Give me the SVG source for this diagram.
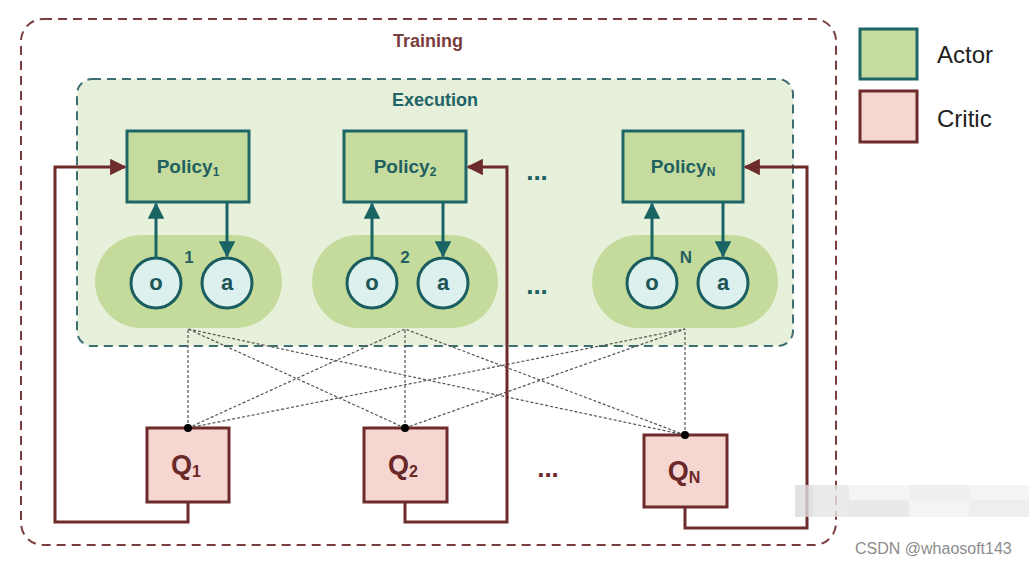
<svg xmlns="http://www.w3.org/2000/svg" width="1029" height="563" viewBox="0 0 1029 563">
  <style>
    .policy { fill: #c6dc9f; stroke: #1d6566; stroke-width: 3; }
    .pill { fill: #c5db9c; }
    .obs { fill: #dcf0ee; stroke: #1a5e5f; stroke-width: 3; }
    .critic { fill: #f6d6d1; stroke: #6e2b2b; stroke-width: 3; }
    .ptxt { font-family: "Liberation Sans", Arial, sans-serif; font-weight: bold; font-size: 19px; fill: #1f5f60; text-anchor: middle; }
    .sub { font-size: 12px; }
    .ctxt { font-family: "Liberation Sans", Arial, sans-serif; font-weight: bold; font-size: 22px; fill: #1c5556; text-anchor: middle; }
    .qtxt { font-family: "Liberation Sans", Arial, sans-serif; font-weight: bold; font-size: 27px; fill: #6a2828; text-anchor: middle; }
    .qsub { font-size: 16px; }
    .idx { font-family: "Liberation Sans", Arial, sans-serif; font-weight: bold; font-size: 17px; fill: #1f5f60; text-anchor: middle; }
    .dots { font-family: "Liberation Sans", Arial, sans-serif; font-weight: bold; font-size: 26px; fill: #1f5f60; text-anchor: middle; }
    .dotsq { font-family: "Liberation Sans", Arial, sans-serif; font-weight: bold; font-size: 26px; fill: #6a2828; text-anchor: middle; }
    .teal { stroke: #1a6465; stroke-width: 3; fill: none; }
    .feed { stroke: #6e2b2b; stroke-width: 3; fill: none; }
    .link { stroke: #555; stroke-width: 1.2; stroke-dasharray: 3 2; fill: none; }
    .legend { font-family: "Liberation Sans", Arial, sans-serif; font-size: 24px; fill: #222; }
  </style>
  <defs>
    <marker id="tealHead" viewBox="0 0 10 10" refX="9" refY="5" markerWidth="5.5" markerHeight="5.5" orient="auto" markerUnits="strokeWidth">
      <path d="M0,0 L10,5 L0,10 z" fill="#1a6465"/>
    </marker>
    <marker id="redHead" viewBox="0 0 10 10" refX="9" refY="5" markerWidth="5.5" markerHeight="5.5" orient="auto" markerUnits="strokeWidth">
      <path d="M0,0 L10,5 L0,10 z" fill="#6e2b2b"/>
    </marker>
  </defs>

  <rect width="1029" height="563" fill="#ffffff"/>

  <!-- Training frame -->
  <g id="training">
    <rect x="21" y="19" width="815" height="526" rx="22" fill="none" stroke="#7a3d3d" stroke-width="2" stroke-dasharray="9 6"/>
    <text x="428" y="47" font-family="Liberation Sans, Arial, sans-serif" font-weight="bold" font-size="18" fill="#7a3d3d" text-anchor="middle">Training</text>
  </g>

  <!-- Execution frame -->
  <g id="execution">
    <rect x="77" y="79" width="716" height="267" rx="15" fill="#e7f0da" stroke="#3d6f72" stroke-width="2" stroke-dasharray="9 6"/>
    <text x="435" y="106" font-family="Liberation Sans, Arial, sans-serif" font-weight="bold" font-size="18" fill="#1f6466" text-anchor="middle">Execution</text>
  </g>

  <!-- Agent 1 -->
  <g id="agent1">
    <rect class="pill" x="95" y="235" width="187" height="93" rx="46.5"/>
    <circle class="obs" cx="156" cy="283" r="25"/>
    <circle class="obs" cx="227" cy="283" r="25"/>
    <text class="ctxt" x="156" y="290">o</text>
    <text class="ctxt" x="227" y="290">a</text>
    <text class="idx" x="189" y="263">1</text>
  </g>
  <g id="policy1">
    <rect class="policy" x="127" y="131" width="122" height="71"/>
    <text class="ptxt" x="188" y="173">Policy<tspan class="sub" dy="3">1</tspan></text>
  </g>

  <!-- Agent 2 -->
  <g id="agent2">
    <rect class="pill" x="312" y="235" width="186" height="93" rx="46.5"/>
    <circle class="obs" cx="372" cy="283" r="25"/>
    <circle class="obs" cx="443" cy="283" r="25"/>
    <text class="ctxt" x="372" y="290">o</text>
    <text class="ctxt" x="443" y="290">a</text>
    <text class="idx" x="405" y="263">2</text>
  </g>
  <g id="policy2">
    <rect class="policy" x="344" y="131" width="122" height="71"/>
    <text class="ptxt" x="405" y="173">Policy<tspan class="sub" dy="3">2</tspan></text>
  </g>

  <!-- Agent N -->
  <g id="agentN">
    <rect class="pill" x="592" y="235" width="186" height="93" rx="46.5"/>
    <circle class="obs" cx="652" cy="283" r="25"/>
    <circle class="obs" cx="723" cy="283" r="25"/>
    <text class="ctxt" x="652" y="290">o</text>
    <text class="ctxt" x="723" y="290">a</text>
    <text class="idx" x="686" y="263">N</text>
  </g>
  <g id="policyN">
    <rect class="policy" x="623" y="131" width="120" height="71"/>
    <text class="ptxt" x="683" y="173">Policy<tspan class="sub" dy="3">N</tspan></text>
  </g>

  <!-- ellipses between agents -->
  <g id="ellipses">
    <text class="dots" x="537" y="180">...</text>
    <text class="dots" x="537" y="294">...</text>
    <text class="dotsq" x="548" y="477">...</text>
  </g>

  <!-- Critics -->
  <g id="critic1">
    <rect class="critic" x="147" y="428" width="82" height="74"/>
    <text class="qtxt" x="186" y="474">Q<tspan class="qsub" dy="3">1</tspan></text>
  </g>
  <g id="critic2">
    <rect class="critic" x="364" y="428" width="83" height="74"/>
    <text class="qtxt" x="403" y="474">Q<tspan class="qsub" dy="3">2</tspan></text>
  </g>
  <g id="criticN">
    <rect class="critic" x="644" y="435" width="83" height="72"/>
    <text class="qtxt" x="684" y="480">Q<tspan class="qsub" dy="3">N</tspan></text>
  </g>

  <!-- Connectors -->
  <g id="connectors">
    <!-- policy / observation / action arrows -->
    <line class="teal" x1="156" y1="258" x2="156" y2="204" marker-end="url(#tealHead)"/>
    <line class="teal" x1="227" y1="203" x2="227" y2="256" marker-end="url(#tealHead)"/>
    <line class="teal" x1="372" y1="258" x2="372" y2="204" marker-end="url(#tealHead)"/>
    <line class="teal" x1="443" y1="203" x2="443" y2="256" marker-end="url(#tealHead)"/>
    <line class="teal" x1="652" y1="258" x2="652" y2="204" marker-end="url(#tealHead)"/>
    <line class="teal" x1="723" y1="203" x2="723" y2="256" marker-end="url(#tealHead)"/>

    <!-- critic inputs from every agent -->
    <path class="link" d="M188,428 L188,329 M188,428 L405,329 M188,428 L685,329"/>
    <path class="link" d="M405,428 L188,329 M405,428 L405,329 M405,428 L685,329"/>
    <path class="link" d="M685,435 L188,329 M685,435 L405,329 M685,435 L685,329"/>
    <circle cx="188" cy="428" r="4" fill="#000"/>
    <circle cx="405" cy="428" r="4" fill="#000"/>
    <circle cx="685" cy="435" r="4" fill="#000"/>

    <!-- critic feedback to policies -->
    <polyline class="feed" points="188,502 188,522 55,522 55,167 125,167" marker-end="url(#redHead)"/>
    <polyline class="feed" points="405,502 405,522 507,522 507,167 468,167" marker-end="url(#redHead)"/>
    <polyline class="feed" points="685,507 685,528 807,528 807,167 745,167" marker-end="url(#redHead)"/>
  </g>

  <!-- Legend -->
  <g id="legend">
    <rect class="policy" x="860" y="29" width="57" height="50"/>
    <rect class="critic" x="860" y="91" width="57" height="51"/>
    <text class="legend" x="937" y="63">Actor</text>
    <text class="legend" x="937" y="127">Critic</text>
  </g>

  <!-- mosaic patch and caption -->
  <g id="mosaic" opacity="0.8">
    <rect x="795" y="485" width="234" height="32" fill="#f2f2f2"/>
    <rect x="795" y="485" width="18" height="32" fill="#dcdcdc"/>
    <rect x="813" y="485" width="36" height="32" fill="#e6e6e6"/>
    <rect x="849" y="500" width="60" height="17" fill="#e4e4e4"/>
    <rect x="909" y="485" width="60" height="15" fill="#ececec"/>
    <rect x="969" y="500" width="60" height="17" fill="#eaeaea"/>
  </g>
  <text x="855" y="554" font-family="Liberation Sans, Arial, sans-serif" font-size="16" fill="#8c8c8c">CSDN @whaosoft143</text>
</svg>
